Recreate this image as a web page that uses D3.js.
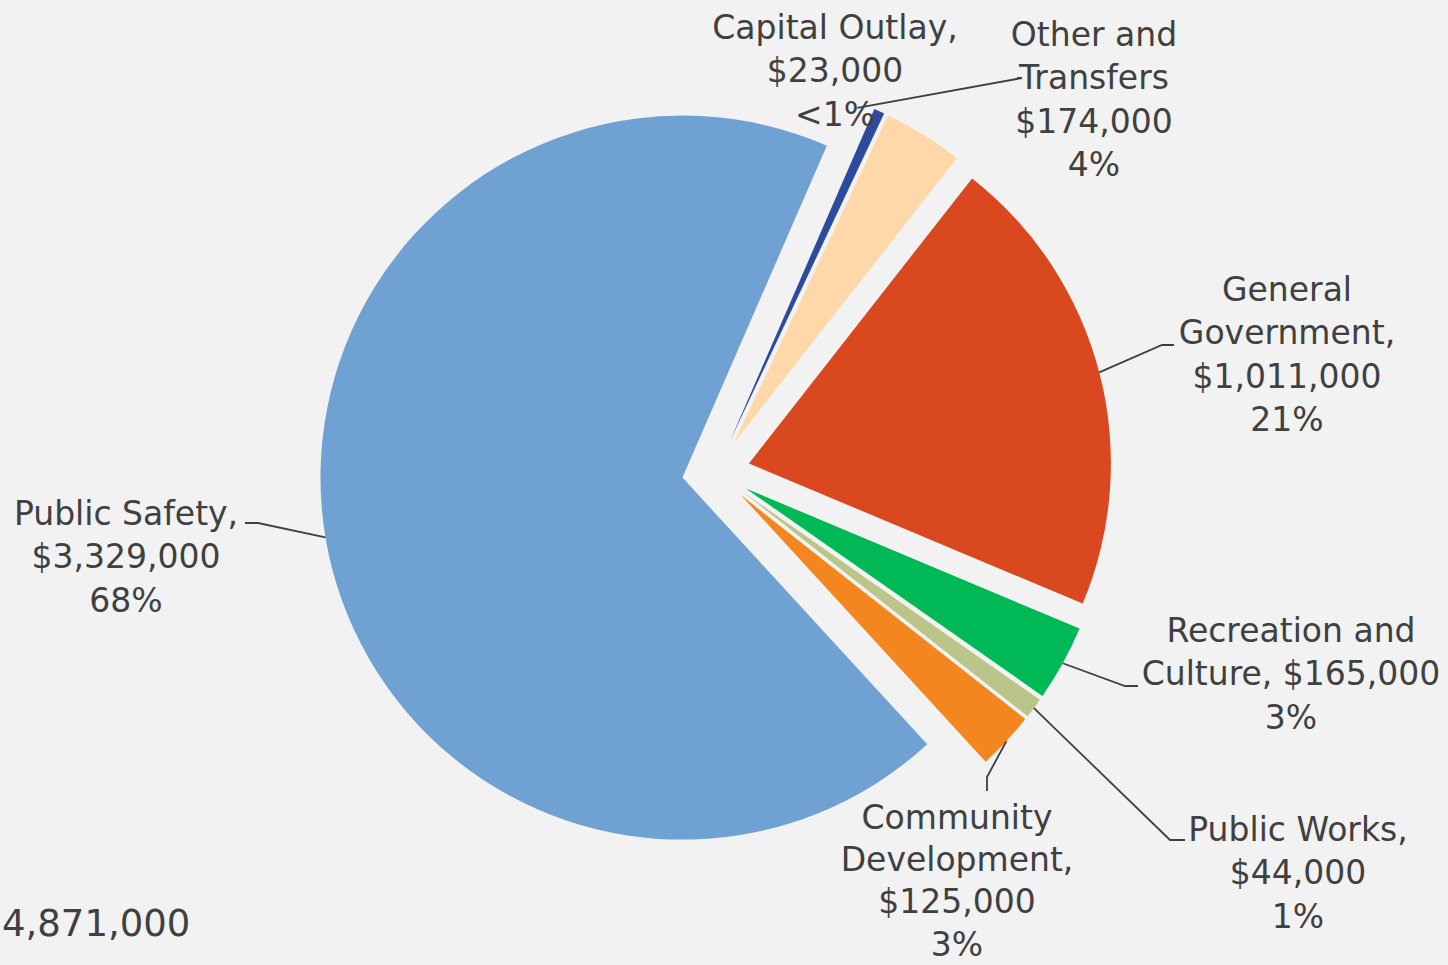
<!DOCTYPE html>
<html>
<head>
<meta charset="utf-8">
<script src="https://cdn.jsdelivr.net/npm/d3@7"></script>
<style>
  html, body { margin: 0; padding: 0; background: #F2F2F2; }
  svg { display: block; }
  text { font-family: "DejaVu Sans", Verdana, sans-serif; fill: #404040; }
</style>
</head>
<body>
<svg id="chart" width="1448" height="965"></svg>
<script>
// ---- DATA ----
const categories = ["Capital Outlay", "Other and Transfers", "General Government",
  "Recreation and Culture", "Public Works", "Community Development", "Public Safety"];
const values = [23000, 174000, 1011000, 165000, 44000, 125000, 3329000];
const colors = ["#2C4B9E", "#FFD8AA", "#D9481F", "#00B956", "#BBC58A", "#F4861F", "#6FA1D3"];
// label line templates ({v} = value, {p} = percent)
const labelTemplates = [
  ["Capital Outlay,", "{v}", "{p}"],
  ["Other and", "Transfers", "{v}", "{p}"],
  ["General", "Government,", "{v}", "{p}"],
  ["Recreation and", "Culture, {v}", "{p}"],
  ["Public Works,", "{v}", "{p}"],
  ["Community", "Development,", "{v}", "{p}"],
  ["Public Safety,", "{v}", "{p}"]
];

// ---- LAYOUT ----
const W = 1448, H = 965;
const cx = 716, cy = 472, R = 362, explode = 34;
const startDeg = 23.5;
const fontSize = 33, lineH = 43.3;
// label anchors: center x, first baseline y, leader elbow and end near label
const labelLayout = [
  { x: 835,  y: 39,  lh: lineH, leader: [[1022, 78], [1017, 78]], tip: { dAng: -2.6, rf: 0.985 } },
  { x: 1094, y: 46,  lh: lineH, leader: null },
  { x: 1287, y: 301, lh: lineH, leader: [[1162, 345], [1174, 345]] },
  { x: 1291, y: 642, lh: lineH, leader: [[1125, 686], [1138, 686]] },
  { x: 1298, y: 841, lh: lineH, leader: [[1170, 840], [1185, 840]] },
  { x: 957,  y: 829, lh: 42.2,  leader: [[987, 777], [987, 791]] },
  { x: 126,  y: 525, lh: lineH, leader: [[258, 523], [245, 523]] }
];

const svg = d3.select("#chart");
const total = d3.sum(values);
const fmtV = d3.format("$,");
const pctText = v => { const p = Math.round(v / total * 100); return p < 1 ? "<1%" : p + "%"; };

const pie = d3.pie().sort(null).value(d => d)
  .startAngle(startDeg * Math.PI / 180)
  .endAngle(startDeg * Math.PI / 180 + 2 * Math.PI);
const arcs = pie(values);
const arcGen = d3.arc().innerRadius(0).outerRadius(R);

function offsetOf(a) {
  const m = (a.startAngle + a.endAngle) / 2;
  return [cx + explode * Math.sin(m), cy - explode * Math.cos(m)];
}

svg.append("g").selectAll("path").data(arcs).join("path")
  .attr("transform", d => { const o = offsetOf(d); return `translate(${o[0]},${o[1]})`; })
  .attr("d", arcGen)
  .attr("fill", (d, i) => colors[i]);

// leader lines
const lg = svg.append("g").attr("fill", "none").attr("stroke", "#404040").attr("stroke-width", 1.8);
arcs.forEach((a, i) => {
  const L = labelLayout[i];
  if (!L.leader) return;
  const o = offsetOf(a);
  let m = (a.startAngle + a.endAngle) / 2;
  let rf = 1;
  if (L.tip) { m = a.startAngle + L.tip.dAng * Math.PI / 180; rf = L.tip.rf; }
  const p0 = [o[0] + R * rf * Math.sin(m), o[1] - R * rf * Math.cos(m)];
  lg.append("path").attr("d", d3.line()([p0, ...L.leader]));
});

// labels
arcs.forEach((a, i) => {
  const L = labelLayout[i];
  const lines = labelTemplates[i].map(s => s.replace("{v}", fmtV(values[i])).replace("{p}", pctText(values[i])));
  const t = svg.append("text").attr("text-anchor", "middle").attr("font-size", fontSize);
  lines.forEach((s, k) => t.append("tspan").attr("x", L.x).attr("y", L.y + k * L.lh).text(s));
});

// total
svg.append("text").attr("x", 2).attr("y", 936).attr("font-size", 37)
  .text(d3.format(",")(total));
</script>
</body>
</html>
